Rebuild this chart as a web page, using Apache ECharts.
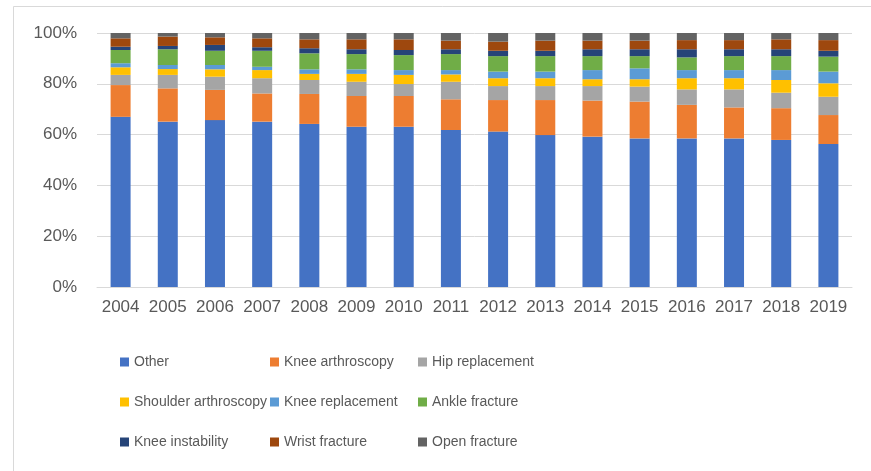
<!DOCTYPE html>
<html>
<head>
<meta charset="utf-8">
<script src="https://cdn.jsdelivr.net/npm/echarts@6/dist/echarts.min.js"></script>
<style>html,body{margin:0;padding:0;background:#fff}#c{width:871px;height:471px}</style>
</head>
<body>
<div id="c"></div>
<script>
const years = ['2004','2005','2006','2007','2008','2009','2010','2011','2012','2013','2014','2015','2016','2017','2018','2019'];
const yTicks = [0, 20, 40, 60, 80, 100];
const other = [67.0, 65.1, 65.7, 65.1, 64.2, 63.1, 63.1, 61.8, 61.2, 59.8, 59.2, 58.5, 58.5, 58.5, 57.9, 56.3];
const kneeArthroscopy = [12.5, 13.1, 11.9, 11.1, 11.8, 12.1, 12.1, 12.1, 12.4, 13.8, 14.2, 14.5, 13.2, 12.2, 12.5, 11.4];
const hipReplacement = [4.0, 5.3, 5.2, 6.0, 5.5, 5.6, 4.7, 6.9, 5.5, 5.5, 5.7, 5.9, 6.1, 7.1, 6.1, 7.2];
const shoulderArthroscopy = [3.0, 2.3, 2.9, 3.2, 2.4, 3.1, 3.6, 2.9, 3.1, 3.1, 2.7, 2.9, 4.4, 4.4, 5.0, 5.3];
const kneeReplacement = [1.6, 1.6, 1.7, 1.3, 1.8, 1.8, 1.9, 1.7, 2.6, 2.6, 3.6, 4.3, 3.2, 3.2, 3.9, 4.6];
const ankleFracture = [5.2, 6.2, 5.6, 6.3, 6.3, 6.0, 5.9, 6.3, 6.1, 6.1, 5.5, 4.8, 5.0, 5.5, 5.5, 5.9];
const kneeInstability = [1.3, 1.3, 2.3, 1.4, 2.0, 1.9, 2.0, 1.9, 2.1, 2.1, 2.7, 2.7, 3.2, 2.7, 2.7, 2.3];
const wristFracture = [3.3, 3.7, 3.0, 3.5, 3.5, 3.9, 4.2, 3.4, 3.6, 4.0, 3.4, 3.4, 3.6, 3.6, 3.9, 4.2];
const openFracture = [2.1, 1.4, 1.7, 2.1, 2.5, 2.5, 2.5, 3.0, 3.4, 3.0, 3.0, 3.0, 2.8, 2.8, 2.5, 2.8];

const seriesDefs = [
  ['Other', other, '#4472C4'],
  ['Knee arthroscopy', kneeArthroscopy, '#ED7D31'],
  ['Hip replacement', hipReplacement, '#A5A5A5'],
  ['Shoulder arthroscopy', shoulderArthroscopy, '#FFC000'],
  ['Knee replacement', kneeReplacement, '#5B9BD5'],
  ['Ankle fracture', ankleFracture, '#70AD47'],
  ['Knee instability', kneeInstability, '#264478'],
  ['Wrist fracture', wristFracture, '#9E480E'],
  ['Open fracture', openFracture, '#636363']
];

const chart = echarts.init(document.getElementById('c'), null, {renderer: 'canvas'});
const font = '"Liberation Sans", Arial, sans-serif';
const legendBase = {
  orient: 'vertical', top: 354, itemWidth: 9, itemHeight: 9, itemGap: 24, padding: 0,
  icon: 'rect', selectedMode: false,
  textStyle: {fontFamily: font, fontSize: 14, color: '#595959', lineHeight: 16}
};
chart.setOption({
  animation: false,
  backgroundColor: '#fff',
  graphic: [{type: 'rect', shape: {x: 13.5, y: 6.5, width: 900, height: 500}, style: {fill: 'none', stroke: '#d9d9d9', lineWidth: 1}, silent: true}],
  grid: {left: 97, right: 19, top: 33, bottom: 184},
  legend: [
    Object.assign({}, legendBase, {left: 120, data: [seriesDefs[0][0], seriesDefs[3][0], seriesDefs[6][0]]}),
    Object.assign({}, legendBase, {left: 270, data: [seriesDefs[1][0], seriesDefs[4][0], seriesDefs[7][0]]}),
    Object.assign({}, legendBase, {left: 418, data: [seriesDefs[2][0], seriesDefs[5][0], seriesDefs[8][0]]})
  ],
  xAxis: {
    type: 'category', data: years,
    axisLine: {show: true, lineStyle: {color: '#d9d9d9'}},
    axisTick: {show: false},
    axisLabel: {fontFamily: font, fontSize: 17, color: '#595959', margin: 12, interval: 0}
  },
  yAxis: {
    type: 'value', min: yTicks[0], max: yTicks[yTicks.length - 1], interval: yTicks[1] - yTicks[0],
    axisLine: {show: false}, axisTick: {show: false},
    splitLine: {lineStyle: {color: '#d9d9d9'}},
    axisLabel: {fontFamily: font, fontSize: 17, color: '#595959', margin: 20, formatter: v => v + '%'}
  },
  series: seriesDefs.map(([name, data, color]) => ({
    name, type: 'bar', stack: 'total', data, barWidth: 20,
    itemStyle: {color}, emphasis: {disabled: true}
  }))
});
</script>
</body>
</html>
